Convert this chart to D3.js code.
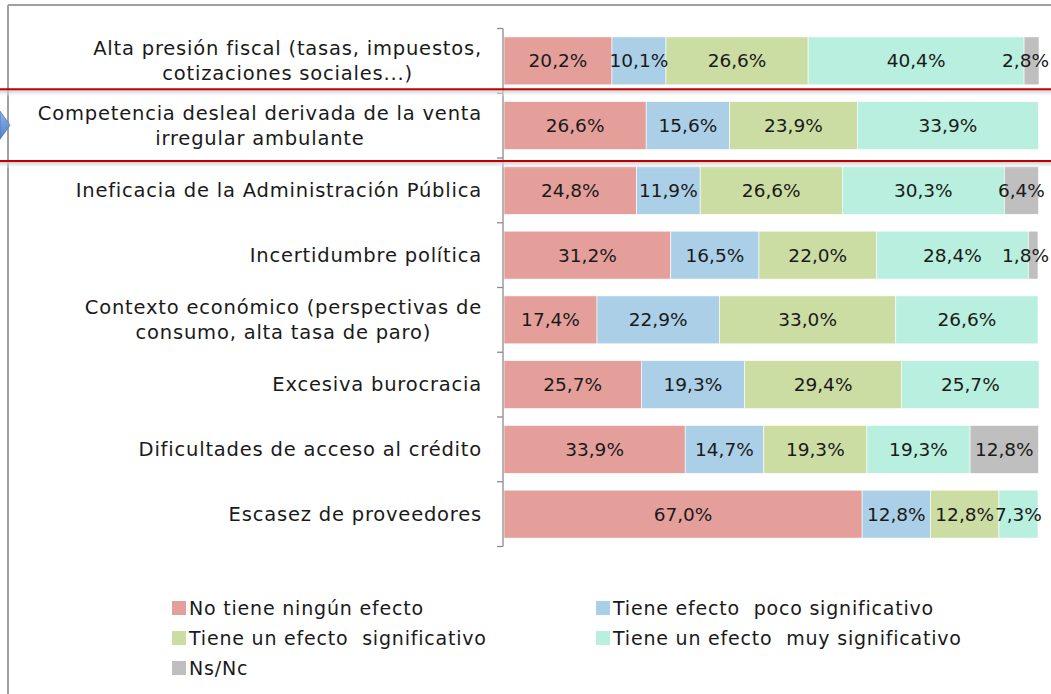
<!DOCTYPE html>
<html>
<head>
<meta charset="utf-8">
<script src="https://cdn.jsdelivr.net/npm/d3@7"></script>
<style>
  html, body { margin: 0; padding: 0; background: #fff; }
  svg { display: block; font-family: "DejaVu Sans", sans-serif; }
</style>
</head>
<body>
<svg id="chart" width="1051" height="694"></svg>
<script>
// ---- Data ----
const categories = [
  ["Alta presión fiscal (tasas, impuestos,", "cotizaciones sociales...)"],
  ["Competencia desleal derivada de la venta", "irregular ambulante"],
  ["Ineficacia de la Administración Pública"],
  ["Incertidumbre política"],
  ["Contexto económico (perspectivas de", "consumo, alta tasa de paro)"],
  ["Excesiva burocracia"],
  ["Dificultades de acceso al crédito"],
  ["Escasez de proveedores"]
];
const seriesNames = [
  "No tiene ningún efecto",
  "Tiene efecto  poco significativo",
  "Tiene un efecto  significativo",
  "Tiene un efecto  muy significativo",
  "Ns/Nc"
];
const noEfecto      = [20.2, 26.6, 24.8, 31.2, 17.4, 25.7, 33.9, 67.0];
const pocoSignif    = [10.1, 15.6, 11.9, 16.5, 22.9, 19.3, 14.7, 12.8];
const significativo = [26.6, 23.9, 26.6, 22.0, 33.0, 29.4, 19.3, 12.8];
const muySignif     = [40.4, 33.9, 30.3, 28.4, 26.6, 25.7, 19.3, 7.3];
const nsnc          = [2.8, 0, 6.4, 1.8, 0, 0, 12.8, 0];
const colors = ["#E59F9B", "#ABCFE6", "#CBDDA3", "#B8EFDE", "#BFBFBF"];

const seriesValues = [noEfecto, pocoSignif, significativo, muySignif, nsnc];

// ---- Setup ----
const svg = d3.select("#chart");
const keys = categories.map((c, i) => "c" + i);
const rows = keys.map((k, i) => {
  const r = { key: k };
  seriesNames.forEach((s, j) => r[s] = seriesValues[j][i]);
  return r;
});

const x = d3.scaleLinear().domain([0, 100]).range([504, 1038.5]);
const y = d3.scaleBand().domain(keys).range([28.5, 546.5]).paddingInner(0.26).paddingOuter(0.13);

const stack = d3.stack().keys(seriesNames);
const stacked = stack(rows);

// outer frame
svg.append("line").attr("x1", 8).attr("x2", 1051).attr("y1", 5).attr("y2", 5)
  .attr("stroke", "#a0a0a0").attr("stroke-width", 2);
svg.append("line").attr("x1", 8).attr("x2", 8).attr("y1", 5).attr("y2", 694)
  .attr("stroke", "#a0a0a0").attr("stroke-width", 2);

// bars
const g = svg.append("g");
stacked.forEach((layer, j) => {
  g.selectAll(null).data(layer.filter(d => d[1] - d[0] > 0)).join("rect")
    .attr("x", d => x(d[0]))
    .attr("y", d => y(d.data.key))
    .attr("width", d => x(d[1]) - x(d[0]))
    .attr("height", y.bandwidth())
    .attr("fill", colors[j])
    .attr("stroke", "#fff").attr("stroke-width", 0.6);
});
// data labels
const fmt = v => d3.format(".1f")(v).replace(".", ",") + "%";
stacked.forEach((layer, j) => {
  g.selectAll(null).data(layer.filter(d => d[1] - d[0] > 0)).join("text")
    .attr("y", d => y(d.data.key) + y.bandwidth() / 2)
    .attr("text-anchor", "middle")
    .attr("dominant-baseline", "central")
    .attr("font-size", 18.5)
    .attr("fill", "#1a1a1a")
    .text(d => fmt(d[1] - d[0]))
    .each(function(d) {
      const w = this.getComputedTextLength();
      let cx = (x(d[0]) + x(d[1])) / 2;
      if (cx + w / 2 > 1049) cx = 1049 - w / 2;
      d3.select(this).attr("x", cx);
    });
});

// axis line & ticks at band boundaries
const step = y.step();
const axisX = x(0) - 1;
const bounds = keys.map(k => y(k) - step * y.paddingInner() / 2);
bounds.push(y(keys[keys.length - 1]) + y.bandwidth() + step * y.paddingInner() / 2);
svg.append("line").attr("x1", axisX).attr("x2", axisX)
  .attr("y1", bounds[0]).attr("y2", bounds[bounds.length - 1])
  .attr("stroke", "#8c8c8c").attr("stroke-width", 1.3);
svg.selectAll(null).data(bounds).join("line")
  .attr("x1", axisX - 6).attr("x2", axisX)
  .attr("y1", d => d).attr("y2", d => d)
  .attr("stroke", "#8c8c8c").attr("stroke-width", 1.3);

// category labels: block right-aligned, lines centered in block
const labelRight = 482;
const lineH = 25;
categories.forEach((lines, i) => {
  const cy = y(keys[i]) + y.bandwidth() / 2;
  const t = svg.append("g");
  const texts = lines.map((ln, li) => t.append("text")
    .attr("y", cy + (li - (lines.length - 1) / 2) * lineH)
    .attr("dominant-baseline", "central")
    .attr("font-size", 19.5)
    .attr("letter-spacing", 0.8)
    .attr("fill", "#1a1a1a")
    .text(ln));
  const widths = texts.map(tx => tx.node().getBBox().width);
  const maxW = d3.max(widths);
  texts.forEach((tx, li) => tx.attr("x", labelRight - maxW / 2 - widths[li] / 2));
});

// red highlight lines with shadow
const defs = svg.append("defs");
const grad = defs.append("linearGradient").attr("id", "shadow").attr("x1", 0).attr("x2", 0).attr("y1", 0).attr("y2", 1);
grad.append("stop").attr("offset", "0%").attr("stop-color", "#c8c8c8").attr("stop-opacity", 0.9);
grad.append("stop").attr("offset", "100%").attr("stop-color", "#ffffff").attr("stop-opacity", 0);
const redY = [bounds[1] - 4, bounds[2] + 3];
redY.forEach(ry => {
  svg.append("rect").attr("x", 0).attr("y", ry + 1).attr("width", 1051).attr("height", 7)
    .attr("fill", "url(#shadow)");
  svg.append("line").attr("x1", 0).attr("x2", 1051).attr("y1", ry).attr("y2", ry)
    .attr("stroke", "#C00000").attr("stroke-width", 2);
});

// blue arrow marker on the left
const arrowGrad = defs.append("linearGradient").attr("id", "arrowG").attr("x1", 0).attr("x2", 0).attr("y1", 0).attr("y2", 1);
arrowGrad.append("stop").attr("offset", "0%").attr("stop-color", "#8fb4e8");
arrowGrad.append("stop").attr("offset", "100%").attr("stop-color", "#4f81c9");
const ay = (redY[0] + redY[1]) / 2;
svg.append("path")
  .attr("d", `M0,${ay - 14} L10,${ay} L0,${ay + 14} Z`)
  .attr("fill", "url(#arrowG)").attr("stroke", "#4a78bd").attr("stroke-width", 0.8);

// legend
const legendItems = [
  { i: 0, x: 172, y: 601 }, { i: 1, x: 596, y: 601 },
  { i: 2, x: 172, y: 631 }, { i: 3, x: 596, y: 631 },
  { i: 4, x: 172, y: 661 }
];
const lg = svg.append("g");
legendItems.forEach(it => {
  lg.append("rect").attr("x", it.x).attr("y", it.y).attr("width", 14).attr("height", 14)
    .attr("fill", colors[it.i]);
  lg.append("text").attr("x", it.x + 17).attr("y", it.y + 7)
    .attr("dominant-baseline", "central")
    .attr("font-size", 19).attr("letter-spacing", 0.8).attr("fill", "#1a1a1a")
    .attr("xml:space", "preserve")
    .style("white-space", "pre")
    .text(seriesNames[it.i]);
});
</script>
</body>
</html>
